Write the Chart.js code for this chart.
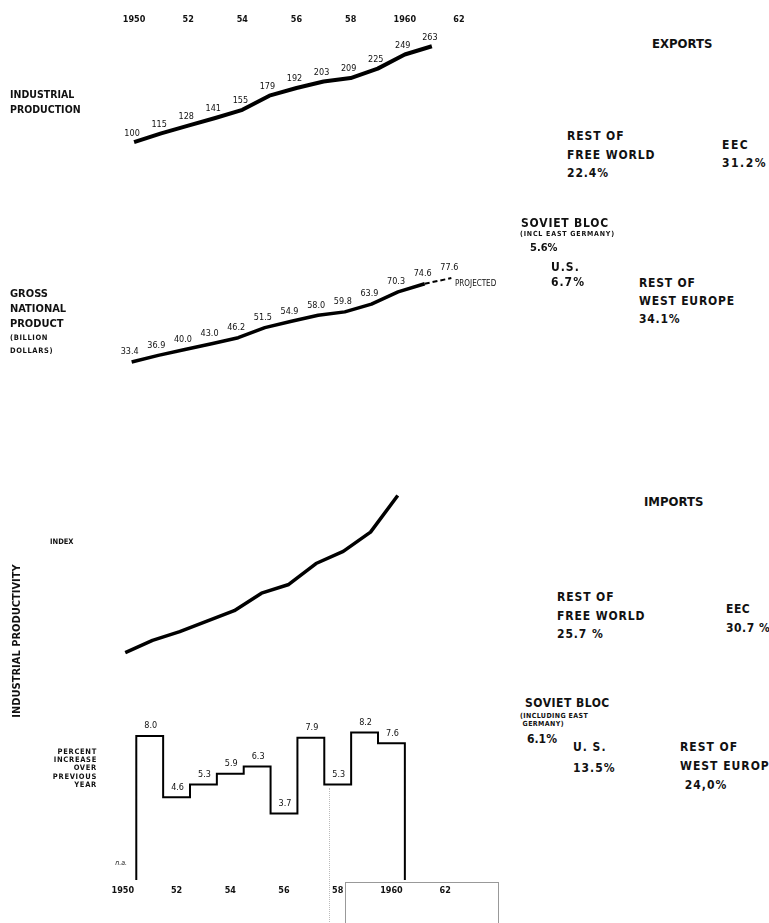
<!DOCTYPE html>
<html>
<head>
<meta charset="utf-8">
<title>Industrial production, GNP and productivity 1950-62</title>
<script src="https://cdn.jsdelivr.net/npm/chart.js@4.4.1/dist/chart.umd.min.js"></script>
<style>
  body { margin: 0; background: #fff; }
  #page { position: relative; width: 769px; height: 923px; overflow: hidden; color: #111;
    font-family: 'DejaVu Sans Condensed', 'DejaVu Sans', sans-serif; font-weight: bold; }
  canvas, .t { position: absolute; }
  .t { white-space: nowrap; }
  .box { position: absolute; left: 345px; top: 882px; width: 152px; height: 60px; border: 1px solid #999; }
  .dots { position: absolute; left: 329px; top: 788px; height: 140px; border-left: 1px dotted #bbb; }
</style>
</head>
<body>
<div id="page">
  <canvas id="production" width="500" height="210" style="left:0;top:0"></canvas>
  <canvas id="gnp" width="520" height="140" style="left:0;top:250px"></canvas>
  <canvas id="productivity" width="450" height="206" style="left:0;top:470px"></canvas>
  <canvas id="increase" width="480" height="200" style="left:0;top:700px"></canvas>
  <div class="dots"></div>
  <div class="box"></div>

  <div class="t" style="left:10px;top:86.5px;font-size:10.5px;line-height:15px">INDUSTRIAL<br>PRODUCTION</div>
  <div class="t" style="left:10px;top:285.5px;font-size:11px;line-height:15px">GROSS<br>NATIONAL<br>PRODUCT</div>
  <div class="t" style="left:10px;top:330.5px;font-size:7.5px;line-height:13px;letter-spacing:0.6px">(BILLION<br>DOLLARS)</div>
  <div class="t" style="left:455px;top:279px;font-size:8px;font-weight:normal">PROJECTED</div>
  <div class="t" style="left:50px;top:537px;font-size:7.5px">INDEX</div>
  <div class="t" style="left:16px;top:641px;font-size:11px;transform:translate(-50%,-50%) rotate(-90deg)">INDUSTRIAL PRODUCTIVITY</div>
  <div class="t" style="right:672px;top:748px;font-size:7.5px;line-height:8.2px;letter-spacing:0.7px;text-align:right">PERCENT<br>INCREASE<br>OVER<br>PREVIOUS<br>YEAR</div>

  <div class="t" style="left:652px;top:36.5px;font-size:13px;line-height:13px">EXPORTS</div>
  <div class="t" style="left:567px;top:127px;font-size:12px;line-height:18.5px;letter-spacing:0.9px">REST OF<br>FREE WORLD<br>22.4%</div>
  <div class="t" style="left:722px;top:136px;font-size:12px;line-height:18px;letter-spacing:1.5px">EEC<br>31.2%</div>
  <div class="t" style="left:521px;top:217px;font-size:12px;line-height:12px;letter-spacing:0.8px">SOVIET BLOC</div>
  <div class="t" style="left:520px;top:231px;font-size:7px;line-height:6.5px;letter-spacing:0.8px">(INCL EAST GERMANY)</div>
  <div class="t" style="left:530px;top:241.5px;font-size:11px;line-height:11px">5.6%</div>
  <div class="t" style="left:551px;top:259.5px;font-size:12px;line-height:15px;letter-spacing:1px">U.S.<br>6.7%</div>
  <div class="t" style="left:639px;top:274px;font-size:12px;line-height:18px;letter-spacing:0.8px">REST OF<br>WEST EUROPE<br>34.1%</div>

  <div class="t" style="left:644px;top:494.5px;font-size:13px;line-height:13px">IMPORTS</div>
  <div class="t" style="left:557px;top:588px;font-size:12px;line-height:18.5px;letter-spacing:0.9px">REST OF<br>FREE WORLD<br>25.7 %</div>
  <div class="t" style="left:726px;top:599.5px;font-size:12px;line-height:19px;letter-spacing:0.5px">EEC<br>30.7 %</div>
  <div class="t" style="left:525px;top:697px;font-size:12px;line-height:12px;letter-spacing:0.5px">SOVIET BLOC</div>
  <div class="t" style="left:520px;top:713px;font-size:7px;line-height:7.5px;letter-spacing:0.4px">(INCLUDING EAST<br>&nbsp;GERMANY)</div>
  <div class="t" style="left:527px;top:733px;font-size:12px;line-height:12px">6.1%</div>
  <div class="t" style="left:573px;top:736.5px;font-size:12px;line-height:21px;letter-spacing:1px">U. S.<br>13.5%</div>
  <div class="t" style="left:680px;top:737.5px;font-size:12px;line-height:19px;letter-spacing:1px">REST OF<br>WEST EUROPE<br>&nbsp;24,0%</div>
</div>
<script>
// industrial production index, 1950 = 100
const productionYears = [1950, 1951, 1952, 1953, 1954, 1955, 1956, 1957, 1958, 1959, 1960, 1961];
const productionIndex = [100, 115, 128, 141, 155, 179, 192, 203, 209, 225, 249, 263];

// gross national product, billion dollars (last year projected)
const gnpYears = [1950, 1951, 1952, 1953, 1954, 1955, 1956, 1957, 1958, 1959, 1960, 1961, 1962];
const gnpBillions = [33.4, 36.9, 40.0, 43.0, 46.2, 51.5, 54.9, 58.0, 59.8, 63.9, 70.3, 74.6, 77.6];
const gnpProjectedFrom = 1961;

// productivity index (no scale printed)
const productivityYears = [1950, 1951, 1952, 1953, 1954, 1955, 1956, 1957, 1958, 1959, 1960];
const productivityIndex = [100, 107, 112, 118, 124, 134, 139, 151, 158, 169, 190];

// percent increase over previous year (1950 n.a.)
const increaseYears = [1951, 1952, 1953, 1954, 1955, 1956, 1957, 1958, 1959, 1960];
const increasePercent = [8.0, 4.6, 5.3, 5.9, 6.3, 3.7, 7.9, 5.3, 8.2, 7.6];

const axisYears = [1950, 1952, 1954, 1956, 1958, 1960, 1962];
const axisYearLabels = ['1950', '52', '54', '56', '58', '1960', '62'];

const FONT = "'DejaVu Sans Condensed', 'DejaVu Sans', sans-serif";

// draws small value labels next to points, positioned via the chart's scales
const valueLabels = {
	id: 'valueLabels',
	afterDatasetsDraw(chart, args, opts) {
		if (!opts.items) return;
		const ctx = chart.ctx;
		const x = chart.scales.x, y = chart.scales.y;
		ctx.save();
		ctx.fillStyle = '#111';
		ctx.textAlign = 'center';
		ctx.textBaseline = 'middle';
		opts.items.forEach(it => {
			ctx.font = it.font || opts.font;
			ctx.fillText(it.text, x.getPixelForValue(it.x) + (opts.dx || 0), y.getPixelForValue(it.y) + (opts.dy || 0));
		});
		ctx.restore();
	}
};

function yearAxis(position, min, max, height, padding) {
	return {
		type: 'linear', position: position, min: min, max: max,
		afterBuildTicks: s => { s.ticks = axisYears.map(v => ({ value: v })); },
		afterFit: s => { s.height = height; },
		grid: { display: false, drawTicks: false },
		border: { display: false },
		ticks: {
			color: '#111', padding: padding, autoSkip: false, maxRotation: 0,
			font: { family: FONT, size: 9, weight: 'bold' },
			callback: (v, i) => axisYearLabels[i]
		}
	};
}

function baseOptions(padding, scales, labels) {
	return {
		responsive: false,
		animation: false,
		events: [],
		layout: { padding: padding },
		scales: scales,
		plugins: { legend: { display: false }, tooltip: { enabled: false }, valueLabels: labels }
	};
}

function lineSet(xs, ys, width) {
	return {
		data: xs.map((x, i) => ({ x: x, y: ys[i] })),
		borderColor: '#000', borderWidth: width, pointRadius: 0, tension: 0,
		borderJoinStyle: 'round', clip: false
	};
}

new Chart(document.getElementById('production'), {
	type: 'line',
	data: { datasets: [lineSet(productionYears, productionIndex, 4)] },
	options: baseOptions(
		{ left: 107, right: 14, top: 0, bottom: 9 },
		{ x: yearAxis('top', 1949, 1963, 28, 3), y: { display: false, min: 0, max: 294 } },
		{
			items: productionYears.map((yr, i) => ({ x: yr, y: productionIndex[i], text: String(productionIndex[i]) })),
			dx: -2, dy: -9, font: '9px ' + FONT
		}
	),
	plugins: [valueLabels]
});

const actual = gnpYears.filter(yr => yr <= gnpProjectedFrom);
const projected = gnpYears.filter(yr => yr >= gnpProjectedFrom);
const projectedSet = lineSet(projected, gnpBillions.slice(gnpYears.indexOf(gnpProjectedFrom)), 2);
projectedSet.borderDash = [5, 3];
new Chart(document.getElementById('gnp'), {
	type: 'line',
	data: { datasets: [lineSet(actual, gnpBillions.slice(0, actual.length), 3.5), projectedSet] },
	options: baseOptions(
		{ left: 105, right: 42, top: 14, bottom: 12 },
		{ x: { type: 'linear', display: false, min: 1949, max: 1963 }, y: { display: false, min: 25, max: 85 } },
		{
			items: gnpYears.map((yr, i) => ({ x: yr, y: gnpBillions[i], text: gnpBillions[i].toFixed(1) })),
			dx: -2, dy: -10, font: '9px ' + FONT
		}
	),
	plugins: [valueLabels]
});

new Chart(document.getElementById('productivity'), {
	type: 'line',
	data: { datasets: [lineSet(productivityYears, productivityIndex, 3.5)] },
	options: baseOptions(
		{ left: 98, right: 25, top: 8, bottom: 6 },
		{ x: { type: 'linear', display: false, min: 1949, max: 1961 }, y: { display: false, min: 90, max: 200 } },
		{}
	)
});

// step outline: each year's bar spans half a year either side
const steps = [{ x: increaseYears[0] - 0.5, y: 0 }];
increaseYears.forEach((yr, i) => {
	steps.push({ x: yr - 0.5, y: increasePercent[i] });
	steps.push({ x: yr + 0.5, y: increasePercent[i] });
});
steps.push({ x: increaseYears[increaseYears.length - 1] + 0.5, y: 0 });

const stepLabels = increaseYears.map((yr, i) => ({ x: yr, y: increasePercent[i], text: increasePercent[i].toFixed(1) }));
stepLabels.push({ x: 1949.9, y: 0.4, text: 'n.a.', font: 'italic 7px ' + FONT });

new Chart(document.getElementById('increase'), {
	type: 'line',
	data: { datasets: [{ data: steps, borderColor: '#000', borderWidth: 2, pointRadius: 0, tension: 0, borderJoinStyle: 'miter', clip: false }] },
	options: baseOptions(
		{ left: 96, right: 8, top: 18, bottom: 0 },
		{ x: yearAxis('bottom', 1949, 1963, 20, 5), y: { display: false, min: 0, max: 9 } },
		{ items: stepLabels, dx: 1, dy: -10, font: '9px ' + FONT }
	),
	plugins: [valueLabels]
});
</script>
</body>
</html>
